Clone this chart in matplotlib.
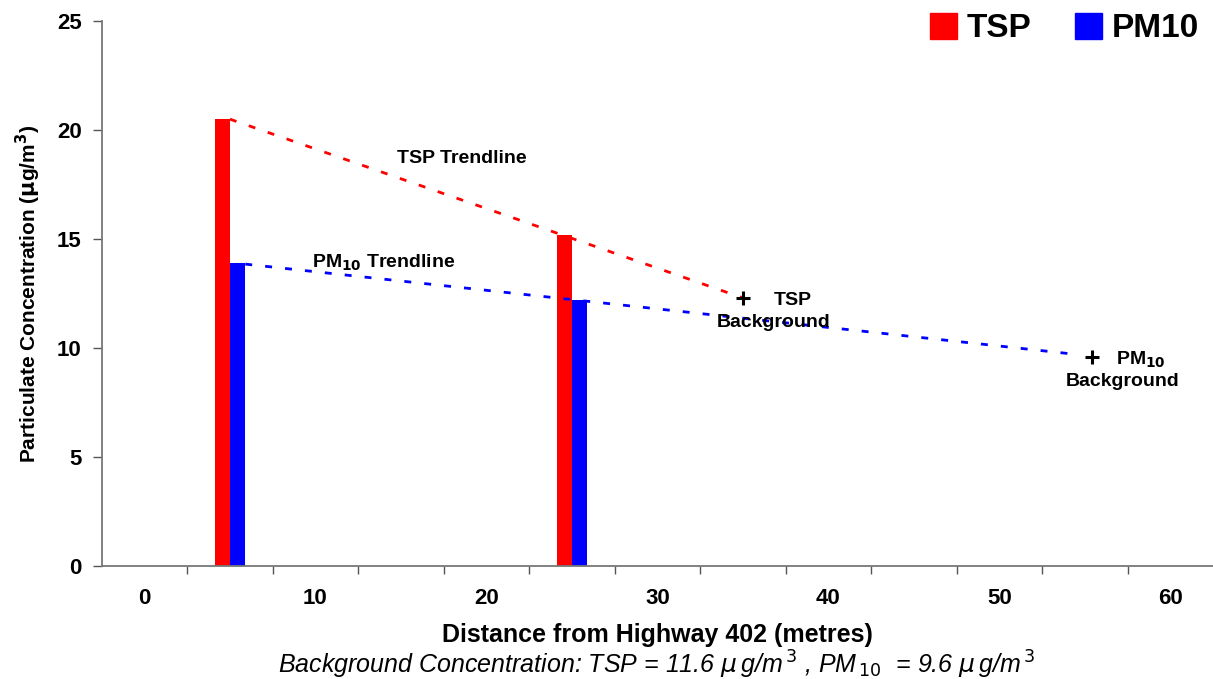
"""
Particulate concentration vs distance from Highway 402 (TSP and PM10).
"""

import matplotlib.pyplot as plt
from matplotlib.patches import Patch

# measured concentrations (ug/m3)
distance = [5, 25]
tsp = [20.5, 15.2]
pm10 = [13.9, 12.2]

# trendlines
tsp_trend_x = [5, 35]
tsp_trend_y = [20.5, 12.3]
pm10_trend_x = [5.9, 54.6]
pm10_trend_y = [13.85, 9.7]

# background markers
bg_x = [35, 55.4]
bg_y = [12.3, 9.6]

x_labels = [0, 10, 20, 30, 40, 50, 60]
y_ticks = [0, 5, 10, 15, 20, 25]

plt.rcParams['font.family'] = ['Liberation Sans', 'DejaVu Sans']

fig = plt.figure(figsize=(12.13, 6.79), dpi=100)
ax = fig.add_axes([0.0838, 0.1664, 0.9162, 0.8026])

bar_w = 0.87
ax.bar(distance, tsp, width=-bar_w, align='edge', color='#ff0000', zorder=2)
ax.bar(distance, pm10, width=bar_w, align='edge', color='#0000ff', zorder=2)

ax.plot(tsp_trend_x, tsp_trend_y, color='#ff0000', lw=2, dashes=(2.5, 4.7), zorder=3)
ax.plot(pm10_trend_x, pm10_trend_y, color='#0000ff', lw=2, dashes=(2.5, 4.7), zorder=3)
ax.plot(bg_x, bg_y, linestyle='none', marker='+', ms=10, mew=2.2, color='black', zorder=4)

# annotations
lab = dict(fontsize=14, fontweight='bold', color='black')
ax.text(14.8, 18.7, 'TSP Trendline', ha='left', va='center', **lab)
ax.text(9.8, 13.9, r'PM$_{\mathbf{10}}$ Trendline', ha='left', va='center', **lab)
ax.text(37.9, 12.2, 'TSP', ha='center', va='center', **lab)
ax.text(36.8, 11.15, 'Background', ha='center', va='center', **lab)
ax.text(58.3, 9.45, r'PM$_{\mathbf{10}}$', ha='center', va='center', **lab)
ax.text(57.2, 8.45, 'Background', ha='center', va='center', **lab)

ax.set_xlim(-2.5, 62.5)
ax.set_ylim(0, 25)

# category style axis: ticks between labels
ax.set_xticks([2.5 + 5 * k for k in range(12)])
ax.set_xticklabels([])
ax.set_xticks(x_labels, minor=True)
ax.set_xticklabels([str(v) for v in x_labels], minor=True)
ax.tick_params(axis='x', which='major', direction='out', length=6, width=1, color='#555555')
ax.tick_params(axis='x', which='minor', length=0, pad=16, labelsize=16)
for t in ax.get_xticklabels(minor=True):
    t.set_fontweight('bold')

ax.set_yticks(y_ticks)
ax.set_yticklabels([str(v) for v in y_ticks], fontsize=16, fontweight='bold')
ax.tick_params(axis='y', direction='out', length=6.5, width=1, color='#555555', pad=8)

for s in ['top', 'right']:
    ax.spines[s].set_visible(False)
for s in ['left', 'bottom']:
    ax.spines[s].set_color('#777777')
    ax.spines[s].set_linewidth(1.3)

ax.set_ylabel(r'Particulate Concentration ($\mathbf{\mu}$g/m$^{\mathbf{3}}$)',
              fontsize=15, fontweight='bold', labelpad=10)
ax.set_xlabel('Distance from Highway 402 (metres)', fontsize=18, fontweight='bold', labelpad=10)

fig.text(0.5415, 0.021,
         r'Background Concentration: TSP = 11.6 $\mu\,$g/m$^{\,3}$ , PM$_{\,10}$  = 9.6 $\mu\,$g/m$^{\,3}$',
         ha='center', va='center', fontsize=18, style='italic')

handles = [Patch(color='#ff0000', label='TSP'), Patch(color='#0000ff', label='PM10')]
fig.legend(handles=handles, loc='upper right', bbox_to_anchor=(1.013, 1.025), ncol=2,
           frameon=False, prop={'weight': 'bold', 'size': 24},
           handlelength=0.8, handleheight=0.8, handletextpad=0.3, columnspacing=1.3)

plt.savefig('out.png', dpi=100)
